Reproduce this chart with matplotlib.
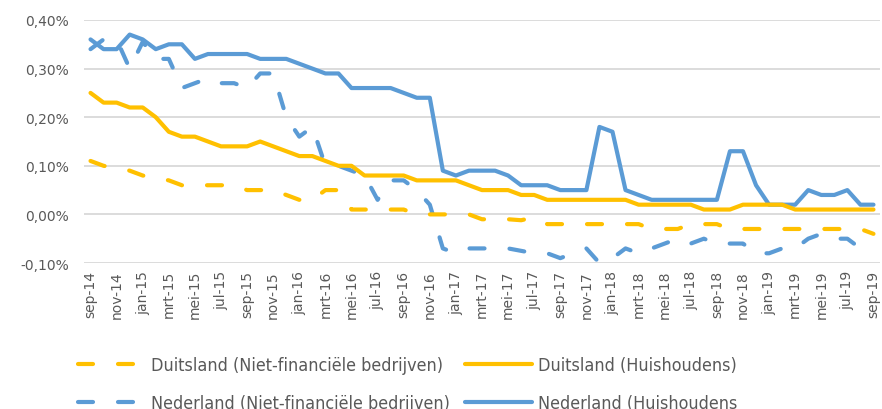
import matplotlib.pyplot as plt
from matplotlib.lines import Line2D
from matplotlib import font_manager

# maandelijkse rente-marges (in %), sep-14 t/m sep-19
de_nfc = [0.11, 0.10, 0.095, 0.09, 0.08, 0.075, 0.07, 0.06, 0.06, 0.06,
          0.06, 0.06, 0.05, 0.05, 0.05, 0.04, 0.03, 0.03, 0.05, 0.05,
          0.01, 0.01, 0.01, 0.01, 0.01, 0.00, 0.00, 0.00, 0.00, 0.00,
          -0.01, -0.01, -0.01, -0.012, -0.006, -0.02, -0.02, -0.02, -0.02, -0.02,
          -0.02, -0.02, -0.02, -0.03, -0.03, -0.03, -0.02, -0.02, -0.02, -0.03,
          -0.03, -0.03, -0.03, -0.03, -0.03, -0.03, -0.03, -0.03, -0.03, -0.03,
          -0.04]
de_hh = [0.25, 0.23, 0.23, 0.22, 0.22, 0.20, 0.17, 0.16, 0.16, 0.15,
         0.14, 0.14, 0.14, 0.15, 0.14, 0.13, 0.12, 0.12, 0.11, 0.10,
         0.10, 0.08, 0.08, 0.08, 0.08, 0.07, 0.07, 0.07, 0.07, 0.06,
         0.05, 0.05, 0.05, 0.04, 0.04, 0.03, 0.03, 0.03, 0.03, 0.03,
         0.03, 0.03, 0.02, 0.02, 0.02, 0.02, 0.02, 0.01, 0.01, 0.01,
         0.02, 0.02, 0.02, 0.02, 0.01, 0.01, 0.01, 0.01, 0.01, 0.01,
         0.01]
nl_nfc = [0.34, 0.36, 0.36, 0.30, 0.355, 0.32, 0.32, 0.26, 0.27, 0.28,
          0.27, 0.27, 0.26, 0.29, 0.29, 0.20, 0.16, 0.18, 0.10, 0.10,
          0.09, 0.08, 0.03, 0.07, 0.07, 0.05, 0.02, -0.07, -0.08, -0.07,
          -0.07, -0.07, -0.07, -0.075, -0.08, -0.08, -0.09, -0.08, -0.07, -0.10,
          -0.09, -0.07, -0.08, -0.07, -0.06, -0.05, -0.06, -0.05, -0.06, -0.06,
          -0.06, -0.08, -0.08, -0.07, -0.07, -0.05, -0.04, -0.05, -0.05, -0.07,
          -0.07]
nl_hh = [0.36, 0.34, 0.34, 0.37, 0.36, 0.34, 0.35, 0.35, 0.32, 0.33,
         0.33, 0.33, 0.33, 0.32, 0.32, 0.32, 0.31, 0.30, 0.29, 0.29,
         0.26, 0.26, 0.26, 0.26, 0.25, 0.24, 0.24, 0.09, 0.08, 0.09,
         0.09, 0.09, 0.08, 0.06, 0.06, 0.06, 0.05, 0.05, 0.05, 0.18,
         0.17, 0.05, 0.04, 0.03, 0.03, 0.03, 0.03, 0.03, 0.03, 0.13,
         0.13, 0.06, 0.02, 0.02, 0.02, 0.05, 0.04, 0.04, 0.05, 0.02,
         0.02]

tick_labels = ['sep-14', 'nov-14', 'jan-15', 'mrt-15', 'mei-15', 'jul-15', 'sep-15',
               'nov-15', 'jan-16', 'mrt-16', 'mei-16', 'jul-16', 'sep-16', 'nov-16',
               'jan-17', 'mrt-17', 'mei-17', 'jul-17', 'sep-17', 'nov-17', 'jan-18',
               'mrt-18', 'mei-18', 'jul-18', 'sep-18', 'nov-18', 'jan-19', 'mrt-19',
               'mei-19', 'jul-19', 'sep-19']

series_names = ['Duitsland (Niet-financiële bedrijven)', 'Duitsland (Huishoudens)',
                'Nederland (Niet-financiële bedrijven)', 'Nederland (Huishoudens']

geel = '#FFC000'
blauw = '#5B9BD5'
grijs = '#595959'
lw = 3.0
dash = (0, (3.6, 6.0))

fig = plt.figure(figsize=(8.82, 4.10), dpi=100)
ax = fig.add_axes([84 / 882, 1 - 264 / 410, 796 / 882, 243 / 410])

x = list(range(len(de_hh)))
style = dict(lw=lw, clip_on=False, solid_capstyle='round', dash_capstyle='round',
             solid_joinstyle='round', dash_joinstyle='round')
ax.plot(x, nl_hh, color=blauw, **style)
ax.plot(x, nl_nfc, color=blauw, ls=dash, **style)
ax.plot(x, de_hh, color=geel, **style)
ax.plot(x, de_nfc, color=geel, ls=dash, **style)

ax.set_xlim(-0.5, len(x) - 0.5)
ax.set_ylim(-0.10, 0.40)
ax.set_yticks([-0.10, 0.00, 0.10, 0.20, 0.30, 0.40])
ax.set_yticklabels([f'{v:.2f}%'.replace('.', ',') for v in ax.get_yticks()])
ax.set_xticks(x[::2])
ax.set_xticklabels(tick_labels, rotation=90)
ax.tick_params(axis='both', length=0, colors=grijs, labelsize=10)
ax.tick_params(axis='y', pad=11)
ax.tick_params(axis='x', pad=5)
ax.grid(axis='y', color='#D9D9D9', lw=1.3)
ax.set_axisbelow(True)
for s in ax.spines.values():
    s.set_visible(False)

legend_font = font_manager.FontProperties(family='DejaVu Sans', stretch='condensed', size=12.9)

handles = [Line2D([], [], color=geel, ls=dash, **style),
           Line2D([], [], color=blauw, ls=dash, **style),
           Line2D([], [], color=geel, **style),
           Line2D([], [], color=blauw, **style)]
labels = [series_names[0], series_names[2], series_names[1], series_names[3]]
fig.legend(handles, labels, ncol=2, loc='upper left',
           bbox_to_anchor=(78 / 882, 1 - 357 / 410), frameon=False,
           borderpad=0, borderaxespad=0, handlelength=3.75, handletextpad=0.35,
           columnspacing=0.8, labelspacing=1.12,
           prop=legend_font, labelcolor=grijs)

fig.savefig('out.png', dpi=100)
